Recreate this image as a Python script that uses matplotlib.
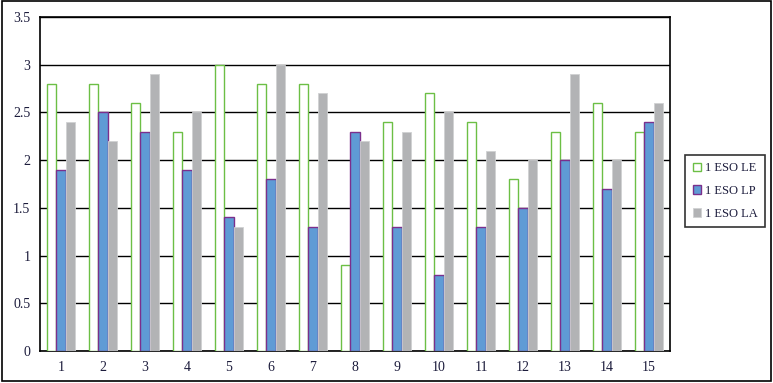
import matplotlib.pyplot as plt
import numpy as np
from matplotlib.patches import Rectangle

categories = [str(i) for i in range(1, 16)]
le_vals = [2.8, 2.8, 2.6, 2.3, 3.0, 2.8, 2.8, 0.9, 2.4, 2.7, 2.4, 1.8, 2.3, 2.6, 2.3]
lp_vals = [1.9, 2.5, 2.3, 1.9, 1.4, 1.8, 1.3, 2.3, 1.3, 0.8, 1.3, 1.5, 2.0, 1.7, 2.4]
la_vals = [2.4, 2.2, 2.9, 2.5, 1.3, 3.0, 2.7, 2.2, 2.3, 2.5, 2.1, 2.0, 2.9, 2.0, 2.6]
series_names = ["1 ESO LE", "1 ESO LP", "1 ESO LA"]
y_ticks = [0, 0.5, 1, 1.5, 2, 2.5, 3, 3.5]
y_labels = ["0", "0.5", "1", "1.5", "2", "2.5", "3", "3.5"]

GREEN = "#6cbf45"
BLUE = "#5f9bd5"
PURPLE = "#7b2f8c"
GREY = "#b2b3b5"
TEXT = "#1c1c3c"

plt.rcParams["font.family"] = ["Liberation Serif", "DejaVu Serif"]

fig = plt.figure(figsize=(7.73, 3.83), dpi=100)
fig.patches.append(Rectangle((0.002, 0.004), 0.996, 0.993, transform=fig.transFigure,
                             fill=False, edgecolor="black", linewidth=1.2))

ax = fig.add_axes([40 / 773, 1 - 351 / 383, 630 / 773, 334 / 383])

x = np.arange(len(categories))
w = 0.215
ax.bar(x - w, le_vals, w, color="white", edgecolor=GREEN, linewidth=1.0,
       label=series_names[0], zorder=3)
ax.bar(x, lp_vals, w, color=BLUE, edgecolor=PURPLE, linewidth=1.0,
       label=series_names[1], zorder=3)
ax.bar(x + w, la_vals, w, color=GREY, edgecolor="#d0d1d3", linewidth=0.6,
       label=series_names[2], zorder=3)

ax.set_xlim(-0.5, len(categories) - 0.5)
ax.set_ylim(0, 3.5)
ax.set_yticks(y_ticks)
ax.set_yticklabels(y_labels)
ax.set_xticks(x)
ax.set_xticklabels(categories)
ax.tick_params(length=0, labelsize=10, colors=TEXT, pad=7)
ax.yaxis.grid(True, color="black", linewidth=1.0, zorder=0)
ax.set_axisbelow(True)
for sp in ax.spines.values():
    sp.set_color("black")
    sp.set_linewidth(1.2)

leg = fig.legend(loc="center left", bbox_to_anchor=(685 / 773, 1 - 191 / 383),
                 frameon=True, fancybox=False, edgecolor="black", fontsize=9,
                 handlelength=0.7, handleheight=0.7, handletextpad=0.3,
                 labelspacing=0.85, borderpad=0.6, borderaxespad=0,
                 labelcolor=TEXT)
leg.get_frame().set_linewidth(1.2)

fig.savefig("out.png", dpi=100)
